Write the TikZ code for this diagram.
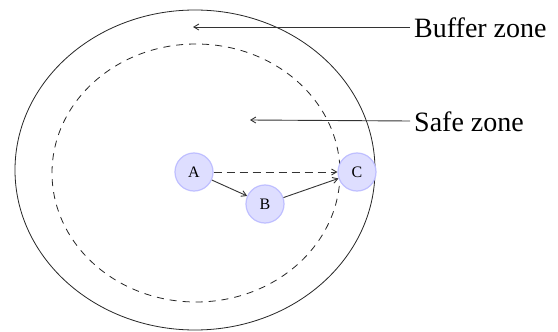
\documentclass[tikz,border=0pt]{standalone}
\usepackage{fontspec}
\setmainfont{Liberation Serif}
\usetikzlibrary{arrows.meta}
\begin{document}
\begin{tikzpicture}[x=1pt,y=-1pt,
  zone/.style={draw=black!85,line width=0.8pt},
  state/.style={circle,minimum size=38pt,inner sep=0pt,fill=blue!13,draw=blue!25,line width=1.2pt,font=\fontsize{16}{16}\selectfont},
  link/.style={draw=black!80,line width=0.9pt,-{Straight Barb[length=5pt,width=6pt]}},
  lbl/.style={anchor=west,inner sep=0pt,font=\fontsize{28}{28}\selectfont}]
\useasboundingbox (0,0) rectangle (558,332);
\clip (0,0) rectangle (558,332);
\fill[white] (0,0) rectangle (558,332);
\draw[zone] (195,170) ellipse [x radius=180, y radius=160];
\draw[zone,dashed,dash pattern=on 7pt off 6pt] (196,173) ellipse [x radius=144, y radius=129];
\node[state] (A) at (194,172) {A};
\node[state] (B) at (265,204) {B};
\node[state] (C) at (357,172) {C};
\draw[link,dashed,dash pattern=on 8pt off 5pt] (A) -- (C);
\draw[link] (A) -- (B);
\draw[link] (B) -- (C);
\node[lbl] (buf) at (414,28) {Buffer zone};
\node[lbl] (safe) at (414,122) {Safe zone};
\coordinate (bufend) at (193,27);
\coordinate (safeend) at (250,120);
\draw[link] (buf.west) ++(-4,-1) -- (bufend);
\draw[link] (safe.west) ++(-4,-1) -- (safeend);
\end{tikzpicture}
\end{document}
